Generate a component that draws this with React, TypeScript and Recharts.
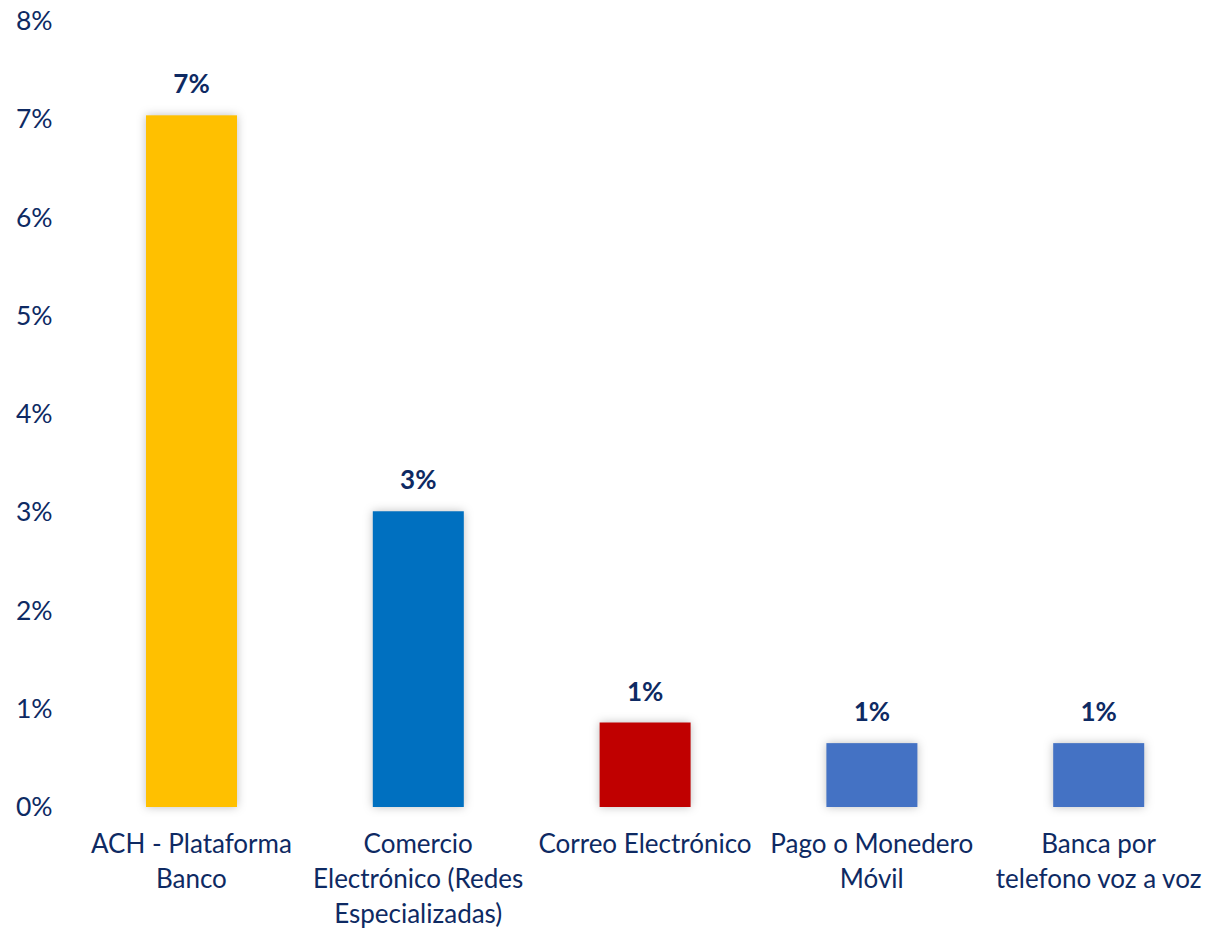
import React from "react";
import { BarChart, Bar, XAxis, YAxis, Cell, LabelList } from "recharts";

const categories = [
  "ACH - Plataforma Banco",
  "Comercio Electrónico (Redes Especializadas)",
  "Correo Electrónico",
  "Pago o Monedero Móvil",
  "Banca por telefono voz a voz",
];
const categoryLines: string[][] = [
  ["ACH - Plataforma", "Banco"],
  ["Comercio", "Electrónico (Redes", "Especializadas)"],
  ["Correo Electrónico"],
  ["Pago o Monedero", "Móvil"],
  ["Banca por", "telefono voz a voz"],
];
const values = [7.04, 3.01, 0.86, 0.65, 0.65];
const valueLabels = ["7%", "3%", "1%", "1%", "1%"];
const barColors = ["#FFC000", "#0070C0", "#C00000", "#4472C4", "#4472C4"];
const yTicks = [0, 1, 2, 3, 4, 5, 6, 7, 8];

const data = categories.map((c, i) => ({ name: c, value: values[i] }));

const TEXT = "#0E2A63";
const FONT = "Lato, 'Open Sans', sans-serif";

const YTick = (props: any) => {
  const { y, payload } = props;
  return (
    <text x={16} y={y} dy={9} textAnchor="start" fill={TEXT} fontSize={26.5} fontFamily={FONT}>
      {`${payload.value}%`}
    </text>
  );
};

const XTick = (props: any) => {
  const { x, payload } = props;
  const idx = categories.indexOf(payload.value);
  const lines = categoryLines[idx] || [payload.value];
  return (
    <g>
      {lines.map((l, i) => (
        <text key={i} x={x} y={853 + i * 35} textAnchor="middle" fill={TEXT} fontSize={26} fontFamily={FONT}>
          {l}
        </text>
      ))}
    </g>
  );
};

const ShadowBar = (props: any) => {
  const { x, y, width, height, fill } = props;
  return (
    <rect x={x} y={y} width={width} height={height} fill={fill}
      style={{ filter: "drop-shadow(0px 0px 5px rgba(0,0,0,0.25))" }} />
  );
};

const ValueLabel = (props: any) => {
  const { x, y, width, index } = props;
  return (
    <text x={x + width / 2} y={y - 22} textAnchor="middle" fill={TEXT} fontSize={26} fontWeight="bold" fontFamily={FONT}>
      {valueLabels[index]}
    </text>
  );
};

export default function App() {
  return (
    <div style={{ position: "absolute", left: 0, top: 0, width: 1212, height: 930, background: "#fff" }}>
      <BarChart width={1212} height={930} data={data} margin={{ top: 21, right: 0, bottom: 0, left: 0 }}>
        <XAxis dataKey="name" axisLine={false} tickLine={false} interval={0} tick={<XTick />} height={123} />
        <YAxis domain={[0, 8]} ticks={yTicks} axisLine={false} tickLine={false} width={78} tick={<YTick />} />
        <Bar dataKey="value" barSize={91} isAnimationActive={false} shape={<ShadowBar />}>
          {data.map((d, i) => (
            <Cell key={i} fill={barColors[i]} />
          ))}
          <LabelList dataKey="value" content={<ValueLabel />} />
        </Bar>
      </BarChart>
    </div>
  );
}
